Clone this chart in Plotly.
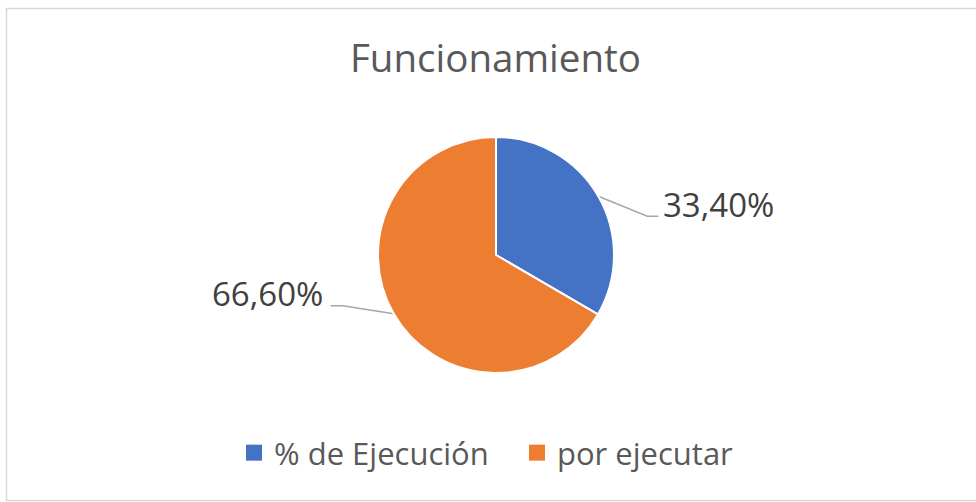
import math
import plotly.graph_objects as go

# ---- data ----
categories = ["% de Ejecución", "por ejecutar"]
values = [33.40, 66.60]
label_texts = ["33,40%", "66,60%"]
title_text = "Funcionamiento"

# ---- style / layout ----
W, H = 976, 502
colors = ["#4472C4", "#ED7D31"]
FONT = "Open Sans"
cx, cy, R = 496, 255, 118
# per-label leader geometry: elbow offset from slice edge point, horizontal run, text side
leader = [
    dict(elbow=(49, 20), run=11, side="right"),
    dict(elbow=(-51, -8), run=-12, side="left"),
]

fig = go.Figure()

fig.add_trace(go.Pie(
    labels=categories, values=values, sort=False, direction="clockwise",
    rotation=0, marker=dict(colors=colors, line=dict(color="white", width=2)),
    textinfo="none", hoverinfo="label+percent", showlegend=False,
    domain=dict(x=[(cx - R) / W, (cx + R) / W], y=[1 - (cy + R) / H, 1 - (cy - R) / H]),
))

total = sum(values)
cum = 0.0
for v, txt, ld in zip(values, label_texts, leader):
    mid = (cum + v / 2) / total * 2 * math.pi
    cum += v
    px = cx + R * math.sin(mid)
    py = cy - R * math.cos(mid)
    ex, ey = px + ld["elbow"][0], py + ld["elbow"][1]
    endx = ex + ld["run"]
    fig.add_trace(go.Scatter(
        x=[px, ex, endx], y=[py, ey, ey], mode="lines",
        line=dict(color="#a6a6a6", width=1.5), hoverinfo="skip", showlegend=False,
    ))
    if ld["side"] == "right":
        fig.add_annotation(x=endx + 3, y=ey - 12, text=txt, showarrow=False,
                           xanchor="left", yanchor="middle",
                           font=dict(family=FONT, size=33, color="#404040"))
    else:
        fig.add_annotation(x=endx - 6, y=ey - 12, text=txt, showarrow=False,
                           xanchor="right", yanchor="middle",
                           font=dict(family=FONT, size=33, color="#404040"))

# legend entries
for name, c in zip(categories, colors):
    fig.add_trace(go.Scatter(
        x=[None], y=[None], mode="markers", name=name,
        marker=dict(symbol="square", size=16, color=c), showlegend=True,
    ))

# chart border (right edge falls outside the picture)
fig.add_shape(type="rect", xref="paper", yref="paper", x0=6.5 / W, x1=1.03,
              y0=1 - 8.5 / H, y1=1.5 / H,
              line=dict(color="#d9d9d9", width=1.5), fillcolor="rgba(0,0,0,0)", layer="below")

fig.add_annotation(x=495, y=57, text=title_text, showarrow=False,
                   xanchor="center", yanchor="middle",
                   font=dict(family=FONT, size=38.5, color="#595959"))

fig.update_layout(
    width=W, height=H, margin=dict(l=0, r=0, t=0, b=0),
    paper_bgcolor="white", plot_bgcolor="white",
    xaxis=dict(range=[0, W], visible=False, fixedrange=True),
    yaxis=dict(range=[H, 0], visible=False, fixedrange=True),
    showlegend=True,
    legend=dict(orientation="h", x=234 / W, xanchor="left", y=1 - 453 / H, yanchor="middle",
                font=dict(family=FONT, size=31, color="#595959"),
                itemsizing="trace", entrywidth=238, bgcolor="rgba(0,0,0,0)"),
)

fig.write_html("out.html", config={"displayModeBar": False},
               post_script="document.body.style.margin='0';document.body.style.overflow='hidden';")
